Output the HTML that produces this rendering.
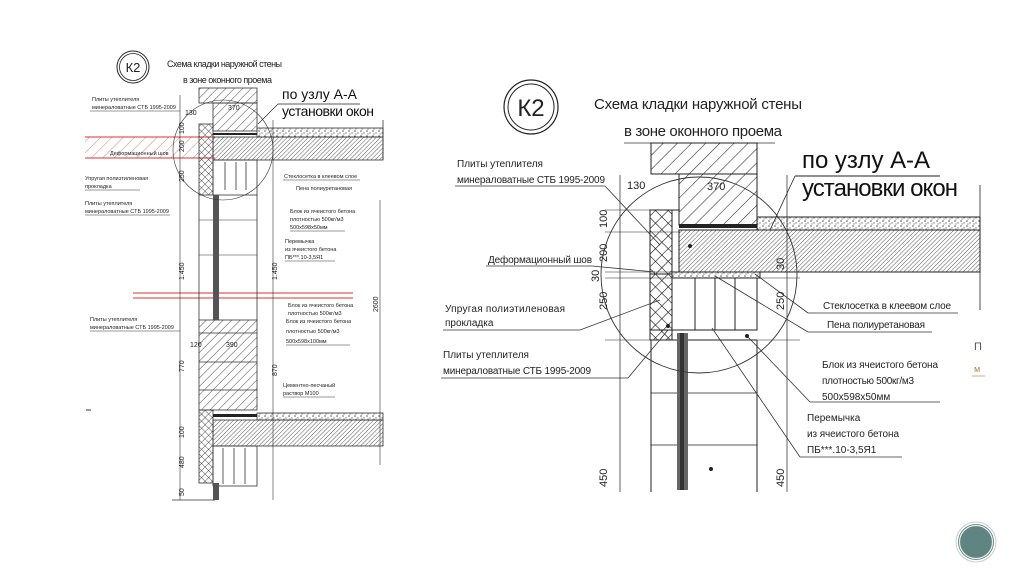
<!DOCTYPE html>
<html><head><meta charset="utf-8"><style>
html,body{margin:0;padding:0;background:#fff;}
svg{display:block;font-family:"Liberation Sans","DejaVu Sans",sans-serif;}
</style></head><body>
<svg width="1024" height="574" viewBox="0 0 1024 574" xmlns="http://www.w3.org/2000/svg">
<defs>
<pattern id="hb" width="10" height="10" patternUnits="userSpaceOnUse" patternTransform="rotate(45)"><line x1="0" y1="0" x2="0" y2="10" stroke="#222" stroke-width="1.1"/></pattern>
<pattern id="hbs" width="6" height="6" patternUnits="userSpaceOnUse" patternTransform="rotate(45)"><line x1="0" y1="0" x2="0" y2="6" stroke="#333" stroke-width="0.9"/></pattern>
<pattern id="hs" width="3" height="3" patternUnits="userSpaceOnUse" patternTransform="rotate(45)"><line x1="0" y1="0" x2="0" y2="3" stroke="#444" stroke-width="0.9"/></pattern>
<pattern id="cx" width="9" height="9" patternUnits="userSpaceOnUse" patternTransform="rotate(45)"><path d="M0 0V9M0 0H9" stroke="#111" stroke-width="1.2"/></pattern>
<pattern id="cxs" width="5" height="5" patternUnits="userSpaceOnUse" patternTransform="rotate(45)"><path d="M0 0V5M0 0H5" stroke="#222" stroke-width="0.8"/></pattern>
<pattern id="dt" width="6" height="5" patternUnits="userSpaceOnUse"><circle cx="1" cy="1" r="0.8" fill="#555"/><circle cx="4" cy="3" r="0.7" fill="#777"/><circle cx="2" cy="4" r="0.6" fill="#666"/></pattern>
<pattern id="rh" width="8" height="8" patternUnits="userSpaceOnUse" patternTransform="rotate(45)"><line x1="0" y1="0" x2="0" y2="8" stroke="#c88" stroke-width="1"/></pattern>
</defs>

<!-- ================= LEFT DRAWING ================= -->
<g stroke="#222" fill="none" stroke-width="0.8">
<circle cx="133" cy="67" r="16" stroke-width="1"/><circle cx="133" cy="67" r="13.5" stroke-width="0.8"/>
</g>
<text x="133" y="72" font-size="13" text-anchor="middle" fill="#222">К2</text>
<text x="167" y="67" font-size="9" fill="#222" textLength="115">Схема кладки наружной стены</text>
<text x="183" y="83" font-size="9" fill="#222" textLength="89">в зоне оконного проема</text>
<text x="282" y="99" font-size="14" fill="#111" textLength="75">по узлу А-А</text>
<text x="282" y="116" font-size="14" fill="#111" textLength="92">установки окон</text>
<line x1="278" y1="104" x2="360" y2="104" stroke="#222" stroke-width="0.8"/>
<line x1="258" y1="124" x2="278" y2="104" stroke="#222" stroke-width="0.6"/>

<rect x="85" y="137" width="114" height="21" fill="url(#rh)"/>
<line x1="85" y1="137" x2="215" y2="137" stroke="#d33" stroke-width="1"/>
<line x1="85" y1="158" x2="215" y2="158" stroke="#d33" stroke-width="1"/>
<line x1="133" y1="293" x2="353" y2="293" stroke="#d33" stroke-width="1"/>
<line x1="133" y1="298" x2="353" y2="298" stroke="#d33" stroke-width="1"/>

<g stroke="#333" stroke-width="0.8">
<rect x="199" y="88" width="58" height="15" fill="url(#hbs)"/>
<rect x="213" y="103" width="44" height="28" fill="url(#hbs)"/>
<rect x="199" y="124" width="14" height="71" fill="url(#cxs)"/>
<rect x="257" y="128" width="126" height="9" fill="url(#dt)"/>
<rect x="213" y="137" width="170" height="23" fill="url(#hs)"/>
<rect x="213" y="160" width="44" height="35" fill="none"/>
<line x1="225" y1="162" x2="225" y2="190"/><line x1="236" y1="162" x2="236" y2="190"/><line x1="246" y1="162" x2="246" y2="190"/>
<line x1="199" y1="195" x2="199" y2="320"/><line x1="257" y1="195" x2="257" y2="320"/>
<line x1="180" y1="95" x2="180" y2="500" stroke-width="0.6"/>
<line x1="273" y1="120" x2="273" y2="500" stroke-width="0.6"/>
<line x1="380" y1="200" x2="380" y2="465" stroke-width="0.6"/>
<line x1="383" y1="120" x2="383" y2="160"/>
<line x1="199" y1="220" x2="257" y2="220" stroke-width="0.5"/><line x1="199" y1="255" x2="257" y2="255" stroke-width="0.5"/>
<rect x="199" y="320" width="58" height="90" fill="url(#hbs)"/>
<line x1="199" y1="333" x2="257" y2="333"/><line x1="199" y1="362" x2="257" y2="362"/><line x1="199" y1="390" x2="257" y2="390"/>
<rect x="199" y="410" width="14" height="73" fill="url(#cxs)"/>
<rect x="257" y="413" width="126" height="7" fill="url(#dt)"/>
<rect x="213" y="420" width="170" height="26" fill="url(#hs)"/>
<rect x="213" y="446" width="44" height="40" fill="none"/>
<line x1="223" y1="448" x2="223" y2="484"/><line x1="234" y1="448" x2="234" y2="484"/><line x1="245" y1="448" x2="245" y2="484"/>
<line x1="172" y1="500" x2="215" y2="500"/>
</g>
<rect x="213" y="195" width="6" height="125" fill="#555"/>
<rect x="213" y="483" width="6" height="17" fill="#555"/>
<rect x="213" y="133" width="44" height="2" fill="#222"/>
<rect x="213" y="414" width="44" height="3" fill="#222"/>
<circle cx="223" cy="150" r="50" fill="none" stroke="#333" stroke-width="0.6"/>

<g font-size="5.5" fill="#222">
<text x="92" y="101">Плиты утеплителя</text><text x="92" y="109">минераловатные СТБ 1995-2009</text>
<text x="110" y="155">Деформационный шов</text>
<text x="85" y="180">Упругая полиэтиленовая</text><text x="85" y="188">прокладка</text>
<text x="85" y="205">Плиты утеплителя</text><text x="85" y="213">минераловатные СТБ 1995-2009</text>
<text x="90" y="321">Плиты утеплителя</text><text x="90" y="329">минераловатные СТБ 1995-2009</text>
<text x="284" y="178">Стеклосетка в клеевом слое</text>
<text x="296" y="190">Пена полиуретановая</text>
<text x="290" y="213">Блок из ячеистого бетона</text><text x="290" y="221">плотностью 500кг/м3</text><text x="290" y="229">500x598x50мм</text>
<text x="285" y="243">Перемычка</text><text x="285" y="251">из ячеистого бетона</text><text x="285" y="259">ПБ***.10-3,5Я1</text>
<text x="288" y="307">Блок из ячеистого бетона</text><text x="288" y="315">плотностью 500кг/м3</text>
<text x="286" y="323">Блок из ячеистого бетона</text><text x="286" y="333">плотностью 500кг/м3</text><text x="286" y="343">500x598x100мм</text>
<text x="283" y="387">Цементно-песчаный</text><text x="283" y="395">раствор М100</text>
</g>
<g stroke="#333" stroke-width="0.5">
<line x1="90" y1="111" x2="180" y2="111"/><line x1="85" y1="190" x2="140" y2="190"/><line x1="85" y1="215" x2="170" y2="215"/>
<line x1="90" y1="331" x2="180" y2="331"/><line x1="283" y1="180" x2="360" y2="180"/><line x1="290" y1="231" x2="345" y2="231"/>
<line x1="285" y1="261" x2="335" y2="261"/><line x1="286" y1="345" x2="350" y2="345"/><line x1="283" y1="397" x2="335" y2="397"/>
</g>
<g font-size="7" fill="#222">
<text x="185" y="115">130</text><text x="228" y="110">370</text><text x="190" y="347">120</text><text x="226" y="347">390</text>
<text transform="translate(184,134) rotate(-90)">100</text>
<text transform="translate(184,152) rotate(-90)">200</text>
<text transform="translate(184,182) rotate(-90)">250</text>
<text transform="translate(184,280) rotate(-90)">1.450</text>
<text transform="translate(277,280) rotate(-90)">1.450</text>
<text transform="translate(184,372) rotate(-90)">770</text>
<text transform="translate(277,376) rotate(-90)">870</text>
<text transform="translate(184,438) rotate(-90)">100</text>
<text transform="translate(184,468) rotate(-90)">480</text>
<text transform="translate(184,496) rotate(-90)">50</text>
<text transform="translate(378,312) rotate(-90)">2600</text>
</g>
<line x1="86" y1="410" x2="91" y2="410" stroke="#333"/>

<!-- ================= RIGHT DRAWING ================= -->
<g stroke="#222" fill="none">
<circle cx="531" cy="107" r="27" stroke-width="1.2"/><circle cx="531" cy="107" r="23" stroke-width="1"/>
</g>
<text x="531" y="116" font-size="24" text-anchor="middle" fill="#222">К2</text>
<text x="594" y="109" font-size="15" fill="#222" textLength="208">Схема кладки наружной стены</text>
<text x="624" y="136" font-size="15" fill="#222" textLength="158">в зоне оконного проема</text>
<line x1="624" y1="143" x2="775" y2="143" stroke="#333" stroke-width="0.8"/>
<text x="802" y="168" font-size="24" fill="#111" textLength="128">по узлу А-А</text>
<text x="802" y="196" font-size="24" fill="#111" textLength="156">установки окон</text>
<line x1="795" y1="176" x2="940" y2="176" stroke="#222" stroke-width="1"/>
<line x1="770" y1="230" x2="795" y2="176" stroke="#222" stroke-width="0.8"/>

<g stroke="#222" stroke-width="1">
<rect x="651" y="143" width="106" height="31" fill="url(#hb)"/>
<rect x="679" y="174" width="78" height="51" fill="url(#hb)"/>
<rect x="757" y="217" width="223" height="13" fill="url(#dt)"/>
<rect x="679" y="230" width="301" height="42" fill="url(#hs)"/>
<rect x="650" y="210" width="22" height="64" fill="url(#cx)"/>
<line x1="650" y1="210" x2="679" y2="210"/>
<rect x="650" y="274" width="22" height="66" fill="url(#cx)"/>
<rect x="672" y="272" width="88" height="6" fill="url(#dt)"/>
<rect x="672" y="278" width="85" height="52" fill="none"/>
<line x1="695" y1="278" x2="695" y2="330"/><line x1="715" y1="278" x2="715" y2="330"/><line x1="735" y1="278" x2="735" y2="330"/>
<line x1="650" y1="330" x2="757" y2="330"/><line x1="650" y1="340" x2="757" y2="340"/>
<line x1="651" y1="340" x2="651" y2="492"/><line x1="757" y1="340" x2="757" y2="492"/>
<line x1="620" y1="175" x2="620" y2="492" stroke-width="0.7"/>
<line x1="787" y1="175" x2="787" y2="492" stroke-width="0.7"/>
<line x1="980" y1="185" x2="980" y2="310" stroke-width="0.8"/>
<line x1="651" y1="393" x2="757" y2="393" stroke-width="0.7"/>
<line x1="651" y1="445" x2="757" y2="445" stroke-width="0.7"/>
<line x1="605" y1="210" x2="680" y2="210" stroke-width="0.6"/>
<line x1="605" y1="232" x2="680" y2="232" stroke-width="0.6"/>
<line x1="605" y1="272" x2="800" y2="272" stroke-width="0.6"/>
<line x1="605" y1="278" x2="800" y2="278" stroke-width="0.6"/>
<line x1="605" y1="340" x2="800" y2="340" stroke-width="0.6"/>
</g>
<rect x="679" y="224" width="78" height="4" fill="#222"/>
<rect x="677" y="333" width="11" height="157" fill="#666"/>
<rect x="680" y="333" width="4" height="157" fill="#333"/>
<circle cx="711" cy="469" r="2" fill="#222"/>
<circle cx="690" cy="246" r="2" fill="#222"/><circle cx="668" cy="326" r="2" fill="#222"/><circle cx="747" cy="336" r="2" fill="#222"/>
<circle cx="699" cy="275" r="98" fill="none" stroke="#333" stroke-width="0.9"/>

<g font-size="10" fill="#222">
<text x="457" y="167">Плиты утеплителя</text>
<text x="457" y="183" textLength="148">минераловатные СТБ 1995-2009</text>
<text x="488" y="263" textLength="104">Деформационный шов</text>
<text x="445" y="312" textLength="120">Упругая полиэтиленовая</text>
<text x="445" y="326">прокладка</text>
<text x="443" y="358">Плиты утеплителя</text>
<text x="443" y="374" textLength="148">минераловатные СТБ 1995-2009</text>
<text x="823" y="309" textLength="128">Стеклосетка в клеевом слое</text>
<text x="827" y="328" textLength="98">Пена полиуретановая</text>
<text x="822" y="368" textLength="116">Блок из ячеистого бетона</text>
<text x="822" y="384" textLength="92">плотностью 500кг/м3</text>
<text x="822" y="400">500x598x50мм</text>
<text x="807" y="421">Перемычка</text>
<text x="807" y="437" textLength="92">из ячеистого бетона</text>
<text x="807" y="453">ПБ***.10-3,5Я1</text>
</g>
<g stroke="#333" stroke-width="0.8" fill="none">
<line x1="455" y1="186" x2="605" y2="186"/><line x1="605" y1="186" x2="660" y2="245"/>
<line x1="486" y1="266" x2="592" y2="266"/><line x1="592" y1="266" x2="655" y2="272"/>
<line x1="443" y1="330" x2="580" y2="330"/><line x1="580" y1="330" x2="660" y2="300"/>
<line x1="441" y1="378" x2="628" y2="378"/><line x1="628" y1="378" x2="668" y2="330"/>
<line x1="808" y1="313" x2="958" y2="313"/><line x1="808" y1="313" x2="755" y2="274"/>
<line x1="808" y1="332" x2="932" y2="332"/><line x1="808" y1="332" x2="715" y2="276"/>
<line x1="810" y1="402" x2="940" y2="402"/><line x1="810" y1="402" x2="748" y2="337"/>
<line x1="800" y1="457" x2="902" y2="457"/><line x1="800" y1="457" x2="712" y2="328"/>
</g>
<g font-size="11" fill="#222">
<text x="627" y="189">130</text><text x="707" y="190">370</text>
<text transform="translate(607,228) rotate(-90)">100</text>
<text transform="translate(607,262) rotate(-90)">200</text>
<text transform="translate(599,282) rotate(-90)">30</text>
<text transform="translate(607,310) rotate(-90)">250</text>
<text transform="translate(607,487) rotate(-90)">450</text>
<text transform="translate(784,310) rotate(-90)">250</text>
<text transform="translate(784,270) rotate(-90)">30</text>
<text transform="translate(784,487) rotate(-90)">450</text>
</g>
<text x="974" y="350" font-size="11" fill="#555">П</text>
<text x="974" y="372" font-size="9" fill="#a84">м</text>
<line x1="972" y1="376" x2="985" y2="376" stroke="#c94" stroke-width="0.8"/>

<circle cx="976" cy="542" r="20" fill="#fff" stroke="#ccc" stroke-width="1"/>
<circle cx="976" cy="542" r="18" fill="#5f8582"/>
<circle cx="976" cy="542" r="16.5" fill="none" stroke="#e6eeee" stroke-width="1.2"/>
</svg>
</body></html>
